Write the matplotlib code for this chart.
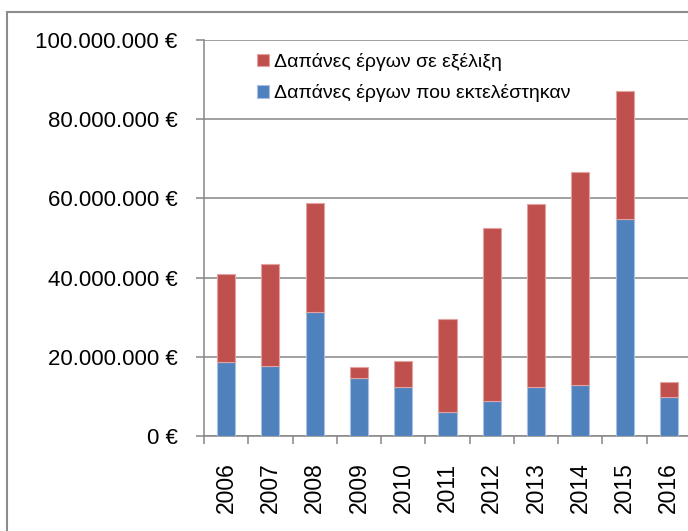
import matplotlib
matplotlib.use("Agg")
import matplotlib.pyplot as plt
import matplotlib.patches as mpatches
import numpy as np

plt.rcParams['font.family'] = ['Liberation Sans', 'DejaVu Sans']

years = ['2006', '2007', '2008', '2009', '2010', '2011', '2012', '2013', '2014', '2015', '2016']
executed = [18.6e6, 17.8e6, 31.2e6, 14.6e6, 12.4e6, 6.1e6, 8.8e6, 12.5e6, 12.9e6, 54.7e6, 9.9e6]
totals = [40.8e6, 43.4e6, 58.8e6, 17.4e6, 18.9e6, 29.5e6, 52.4e6, 58.5e6, 66.7e6, 87.1e6, 13.7e6]
in_progress = [t - e for t, e in zip(totals, executed)]
yticks = [0, 20e6, 40e6, 60e6, 80e6, 100e6]
label_progress = 'Δαπάνες έργων σε εξέλιξη'
label_executed = 'Δαπάνες έργων που εκτελέστηκαν'

W, H = 688, 531
fig = plt.figure(figsize=(W / 100, H / 100), dpi=100)
ax = fig.add_axes([204 / W, (H - 436) / H, 487 / W, 396 / H])

grid_c = '#868686'
x = np.arange(len(years))
b1 = ax.bar(x, executed, width=0.41, color='#4F81BD', edgecolor='#A7C0E3', linewidth=0.8, zorder=3)
b2 = ax.bar(x, in_progress, bottom=executed, width=0.41, color='#C0504D', edgecolor='#E3A3A2', linewidth=0.8, zorder=3)

ax.set_xlim(-0.5, len(years) - 0.5)
ax.set_ylim(0, 100e6)
ax.set_yticks(yticks)
ax.set_yticklabels([f"{int(v):,}".replace(',', '.') + ' €' for v in yticks], fontsize=16)
ax.yaxis.grid(True, color=grid_c, linewidth=1.1, zorder=0)
ax.set_axisbelow(True)

ax.set_xticks(x)
ax.set_xticklabels(years, rotation=90, fontsize=16.5, va='top')
ax.set_xticks(np.arange(-0.5, len(years), 1), minor=True)
ax.tick_params(axis='x', which='major', length=0, pad=19)
ax.tick_params(axis='x', which='minor', length=6, width=1.1, color=grid_c)
ax.tick_params(axis='y', length=6, width=1.1, color=grid_c, pad=13)

for s in ['top', 'right']:
    ax.spines[s].set_visible(False)
for s in ['left', 'bottom']:
    ax.spines[s].set_color(grid_c)
    ax.spines[s].set_linewidth(1.1)

leg = fig.legend([b2, b1], [label_progress, label_executed], loc='upper left',
                 bbox_to_anchor=(257 / W, 1 - 53 / H), frameon=False, fontsize=14,
                 handlelength=0.62, handleheight=0.62, handletextpad=0.25,
                 labelspacing=0.68, borderpad=0, borderaxespad=0)

fig.patches.append(mpatches.Rectangle((7 / W, -0.1), 2, 1 - 12 / H + 0.1,
                                      transform=fig.transFigure, fill=False,
                                      edgecolor='#8C8C8C', linewidth=1.5))

fig.savefig('out.png', dpi=100)
